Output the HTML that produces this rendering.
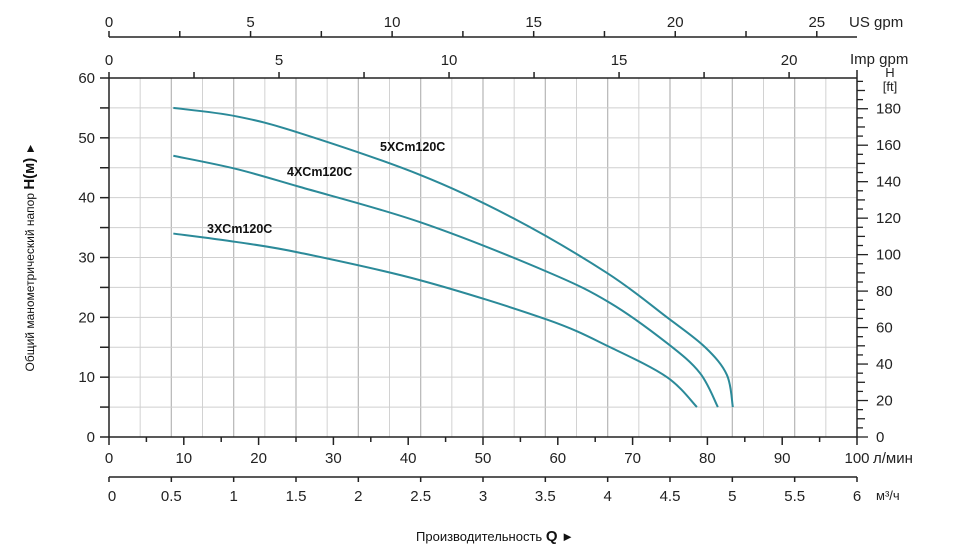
<!DOCTYPE html>
<html><head><meta charset="utf-8"><style>
html,body{margin:0;padding:0;background:#fff;}
svg{display:block;font-family:"Liberation Sans",Arial,sans-serif;}
</style></head><body>
<svg id="s" width="973" height="557" viewBox="0 0 973 557" xmlns="http://www.w3.org/2000/svg">
<g id="grid"></g>
<g id="axes" stroke="#222" stroke-width="1.5" fill="none"></g>
<g id="txt" fill="#222" font-size="15"></g>
<g fill="none" stroke="#2b8a99" stroke-width="2">
<path id="c5"/><path id="c4"/><path id="c3"/>
</g>
<g font-size="12.5" font-weight="bold" fill="#111">
<text x="380" y="151">5XCm120C</text>
<text x="287" y="176">4XCm120C</text>
<text x="207" y="233">3XCm120C</text>
</g>
<text x="34" y="257" transform="rotate(-90 34 257)" text-anchor="middle" font-size="12" fill="#111">Общий манометрический напор  <tspan font-weight="bold" font-size="15">H(м)</tspan>  ►</text>
<text x="495" y="541" text-anchor="middle" font-size="13" fill="#111">Производительность <tspan font-weight="bold" font-size="15">Q</tspan>   ►</text>
</svg>
<script>
var NS="http://www.w3.org/2000/svg";
function el(p,t,a,tx){var e=document.createElementNS(NS,t);for(var k in a)e.setAttribute(k,a[k]);if(tx!==undefined)e.textContent=tx;document.getElementById(p).appendChild(e);return e;}
var X0=109,X1=857,Y0=437,Y1=78;
function px(q){return X0+(X1-X0)*q/100;}
function py(h){return Y0-(Y0-Y1)*h/60;}
for(var i=1;i<24;i++){var x=X0+(X1-X0)*i/24;el("grid","line",{x1:x,y1:Y1,x2:x,y2:Y0,stroke:(i%2==0?"#bbb":"#d2d2d2"),"stroke-width":(i%2==0?1.3:1)});}
for(var h=5;h<60;h+=5){el("grid","line",{x1:X0,y1:py(h),x2:X1,y2:py(h),stroke:"#cfcfcf","stroke-width":1});}
el("axes","line",{x1:X0,y1:Y1,x2:X1,y2:Y1});
el("axes","line",{x1:X0,y1:Y0,x2:X1,y2:Y0});
el("axes","line",{x1:X0,y1:Y1,x2:X0,y2:Y0});
el("axes","line",{x1:X1,y1:70,x2:X1,y2:Y0});
for(var h=0;h<=60;h+=5){el("axes","line",{x1:X0-9,y1:py(h),x2:X0,y2:py(h)});if(h%10==0)el("txt","text",{x:95,y:py(h)+5,"text-anchor":"end"},h);}
for(var q=0;q<=100;q+=5){el("axes","line",{x1:px(q),y1:Y0,x2:px(q),y2:Y0+(q%10==0?8:5)});if(q%10==0)el("txt","text",{x:px(q),y:463,"text-anchor":"middle"},q);}
el("txt","text",{x:873,y:463},"л/мин");
var YM=477;el("axes","line",{x1:X0,y1:YM,x2:X1,y2:YM});
for(var m=0;m<=12;m++){var x=X0+(X1-X0)*m/12;el("axes","line",{x1:x,y1:YM,x2:x,y2:YM+5});el("txt","text",{x:x+(m==0?3:0),y:501,"text-anchor":"middle"},(m/2).toString());}
el("txt","text",{x:876,y:500,"font-size":13},"м³/ч");
var YU=37,fu=3.785*(X1-X0)/100;el("axes","line",{x1:X0,y1:YU,x2:X1,y2:YU});
for(var g=0;g<=25;g+=2.5){var x=X0+g*fu;el("axes","line",{x1:x,y1:YU,x2:x,y2:YU-6});if(g%5==0)el("txt","text",{x:x,y:27,"text-anchor":"middle"},g);}
el("txt","text",{x:849,y:27},"US gpm");
var fi=4.546*(X1-X0)/100;
for(var g=0;g<=20;g+=2.5){var x=X0+g*fi;el("axes","line",{x1:x,y1:Y1,x2:x,y2:Y1-6});if(g%5==0)el("txt","text",{x:x,y:65,"text-anchor":"middle"},g);}
el("txt","text",{x:850,y:64},"Imp gpm");
var fp=0.3048*(Y0-Y1)/60;
for(var f=0;f<=195;f+=5){var y=Y0-f*fp;if(y<80)break;var L=f%20==0?11:(f%10==0?8:6);el("axes","line",{x1:X1,y1:y,x2:X1+L,y2:y,"stroke-width":1.3});if(f%20==0)el("txt","text",{x:876,y:y+5},f);}
el("txt","text",{x:890,y:77,"text-anchor":"middle","font-size":13},"H");
el("txt","text",{x:890,y:91,"text-anchor":"middle","font-size":13},"[ft]");
function curve(id,pts){var P=pts.map(function(p){return [px(p[0]),py(p[1])];});
var d="M"+P[0][0]+","+P[0][1];
for(var i=0;i<P.length-1;i++){var p0=P[i-1]||P[i],p1=P[i],p2=P[i+1],p3=P[i+2]||p2;
d+=" C"+(p1[0]+(p2[0]-p0[0])/6)+","+(p1[1]+(p2[1]-p0[1])/6)+" "+(p2[0]-(p3[0]-p1[0])/6)+","+(p2[1]-(p3[1]-p1[1])/6)+" "+p2[0]+","+p2[1];}
document.getElementById(id).setAttribute("d",d);}
curve("c5",[[8.6,55],[17,53.6],[25.5,50.8],[41.6,43.8],[54,36.6],[66.6,27.4],[74.6,20],[79.7,15],[82.6,10.4],[83.4,5]]);
curve("c4",[[8.6,47],[17,44.8],[25.5,41.8],[41.6,35.9],[58.6,27.6],[67,22.4],[74.6,15.7],[79,10.7],[81.4,5]]);
curve("c3",[[8.6,34],[17,32.6],[25.5,30.8],[41.6,26.2],[58.6,19.6],[67,15],[74.6,10],[78.6,5]]);
</script>
</body></html>
